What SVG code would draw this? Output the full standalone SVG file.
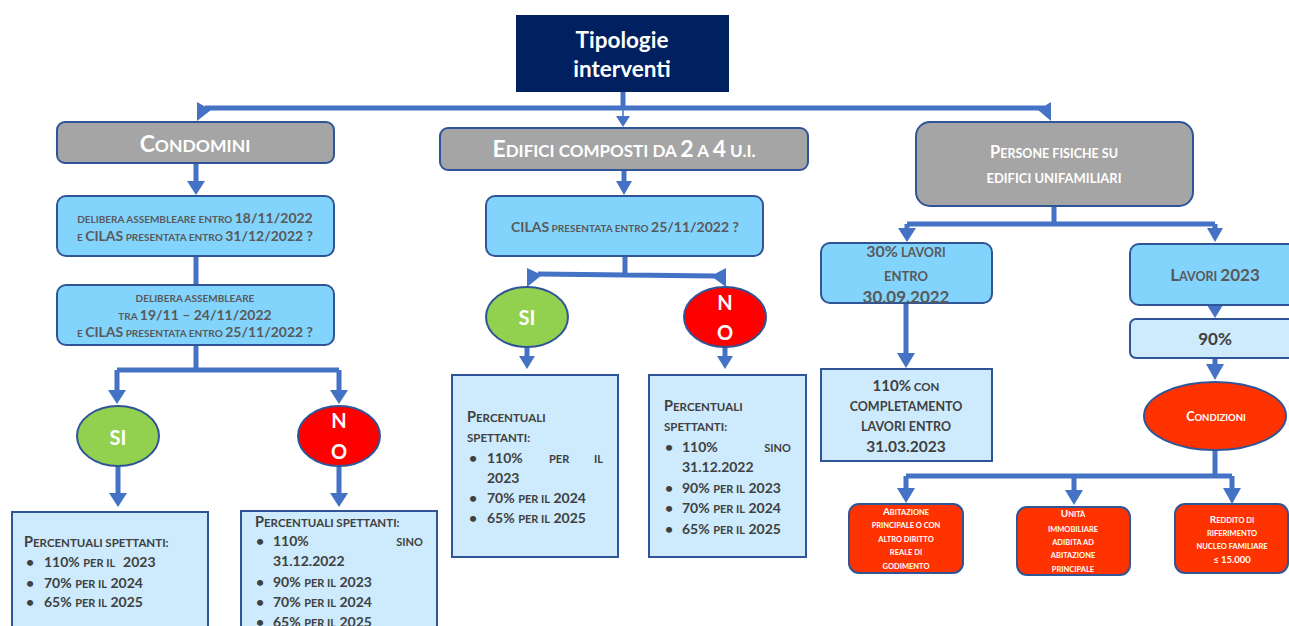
<svg xmlns="http://www.w3.org/2000/svg" width="1289" height="626" viewBox="0 0 1289 626">
<style>
text{font-family:Lato,"Open Sans","Liberation Sans",sans-serif;font-weight:bold}
.w{fill:#ffffff}
.g{fill:#595959}
.d{fill:#404040}
.gray{fill:#a5a5a5;stroke:#2f5597;stroke-width:2}
.q{fill:#83d4fd;stroke:#2f5597;stroke-width:2}
.p{fill:#cdebfd;stroke:#2f5597;stroke-width:2}
.r{fill:#ff3300;stroke:#2f5597;stroke-width:2}
.c{stroke:#4472c4;stroke-width:5;fill:none}
.h{fill:#4472c4}
</style>
<g id="connectors">
<path class="c" d="M623,92 V108"/>
<path class="c" d="M205,108 H1045" stroke-width="4"/>
<polygon class="h" points="197,102 211,110 197,121"/>
<polygon class="h" points="1051,102 1038,110 1051,121"/>
<path d="M623,110 V118" stroke="#4472c4" stroke-width="1.5"/>
<polygon class="h" points="616,116 630,116 623,127"/>
<path class="c" d="M196,163 V183"/>
<polygon class="h" points="187,181 205,181 196,195"/>
<path class="c" d="M196,256 V286"/>
<path class="c" d="M196,345 V370 M117,370 H339 M117,370 V392 M339,370 V392"/>
<polygon class="h" points="108,390 126,390 117,404"/>
<polygon class="h" points="330,390 348,390 339,404"/>
<path class="c" d="M118,466 V495 M339,466 V495"/>
<polygon class="h" points="109,493 127,493 118,507"/>
<polygon class="h" points="330,493 348,493 339,507"/>
<path class="c" d="M624,170 V183"/>
<polygon class="h" points="616,181 632,181 624,195"/>
<path class="c" d="M625,256 V274 M538,274 L715,276"/>
<polygon class="h" points="527,268 542,275 527,287"/>
<polygon class="h" points="726,268 711,276 726,287"/>
<path class="c" d="M527,346 V358 M725,346 V358"/>
<polygon class="h" points="519,356 535,356 527,369"/>
<polygon class="h" points="717,356 733,356 725,369"/>
<path class="c" d="M1054,206 V224 M907,224 H1215 M907,224 V230 M1215,224 V230"/>
<polygon class="h" points="898,228 916,228 907,242"/>
<polygon class="h" points="1207,228 1223,228 1215,242"/>
<path class="c" d="M906,303 V355"/>
<polygon class="h" points="897,353 915,353 906,368"/>
<polygon class="h" points="1207,305 1223,305 1215,318"/>
<path class="c" d="M1215,358 V366"/>
<polygon class="h" points="1206,364 1224,364 1215,380"/>
<path class="c" d="M1215,450 V477" stroke-width="6"/>
<path class="c" d="M906,476 H1232 M906,476 V490 M1074,476 V492 M1232,476 V490"/>
<polygon class="h" points="897,488 915,488 906,503"/>
<polygon class="h" points="1065,490 1083,490 1074,505"/>
<polygon class="h" points="1223,488 1241,488 1232,504"/>
</g>
<g id="n-title">
<rect x="516" y="15" width="213" height="77" fill="#002060"/>
<text class="w" x="622" y="48" font-size="22.5" text-anchor="middle">Tipologie</text>
<text class="w" x="622" y="77" font-size="22.5" text-anchor="middle">interventi</text>
</g>
<g id="n-condomini">
<rect class="gray" x="57" y="122" width="277" height="41" rx="8"/>
<text class="w" x="195" y="152" text-anchor="middle"><tspan font-size="23">C</tspan><tspan font-size="17.5">ONDOMINI</tspan></text>
</g>
<g id="n-cond-q1">
<rect class="q" x="57" y="196" width="277" height="60" rx="9"/>
<text class="g" x="195" y="223" text-anchor="middle" font-size="10">DELIBERA ASSEMBLEARE  ENTRO <tspan font-size="14">18/11/2022</tspan></text>
<text class="g" x="195" y="241" text-anchor="middle" font-size="10">E <tspan font-size="14">CILAS</tspan> PRESENTATA  ENTRO <tspan font-size="14">31/12/2022 ?</tspan></text>
</g>
<g id="n-cond-q2">
<rect class="q" x="57" y="285" width="277" height="60" rx="9"/>
<text class="g" x="195" y="302" text-anchor="middle" font-size="10">DELIBERA ASSEMBLEARE</text>
<text class="g" x="195" y="320" text-anchor="middle" font-size="10">TRA <tspan font-size="14">19/11 – 24/11/2022</tspan></text>
<text class="g" x="195" y="337" text-anchor="middle" font-size="10">E <tspan font-size="14">CILAS</tspan> PRESENTATA  ENTRO <tspan font-size="14">25/11/2022 ?</tspan></text>
</g>
<g id="n-cond-si">
<ellipse cx="118" cy="436" rx="41" ry="30" fill="#92d050" stroke="#2f5597" stroke-width="2"/>
<text class="w" x="118" y="445" font-size="20" text-anchor="middle">SI</text>
</g>
<g id="n-cond-no">
<ellipse cx="339" cy="436" rx="41" ry="30" fill="#ff0000" stroke="#2f5597" stroke-width="2"/>
<text class="w" x="339" y="428" font-size="20" text-anchor="middle">N</text>
<text class="w" x="339" y="459" font-size="20" text-anchor="middle">O</text>
</g>
<g id="n-cond-si-perc">
<rect class="p" x="12" y="512" width="196" height="130"/>
<text class="d" x="24" y="547" font-size="11.5"><tspan font-size="14.5">P</tspan>ERCENTUALI SPETTANTI:</text>
<text class="d" x="26" y="567" font-size="14">•</text>
<text class="d" x="44" y="567" font-size="14">110% <tspan font-size="11">PER IL</tspan><tspan dx="8">2023</tspan></text>
<text class="d" x="26" y="588" font-size="14">•</text>
<text class="d" x="44" y="588" font-size="14">70% <tspan font-size="11">PER IL</tspan> 2024</text>
<text class="d" x="26" y="607" font-size="14">•</text>
<text class="d" x="44" y="607" font-size="14">65% <tspan font-size="11">PER IL</tspan> 2025</text>
</g>
<g id="n-cond-no-perc">
<rect class="p" x="241" y="511" width="196" height="130"/>
<text class="d" x="255" y="527" font-size="11.5"><tspan font-size="14.5">P</tspan>ERCENTUALI SPETTANTI:</text>
<text class="d" x="256" y="546" font-size="14">•</text>
<text class="d" x="273" y="546" font-size="14">110%</text>
<text class="d" x="423" y="546" font-size="11" text-anchor="end">SINO</text>
<text class="d" x="273" y="566" font-size="14">31.12.2022</text>
<text class="d" x="256" y="587" font-size="14">•</text>
<text class="d" x="273" y="587" font-size="14">90% <tspan font-size="11">PER IL</tspan> 2023</text>
<text class="d" x="256" y="607" font-size="14">•</text>
<text class="d" x="273" y="607" font-size="14">70% <tspan font-size="11">PER IL</tspan> 2024</text>
<text class="d" x="256" y="627" font-size="14">•</text>
<text class="d" x="273" y="627" font-size="14">65% <tspan font-size="11">PER IL</tspan> 2025</text>
</g>
<g id="n-edifici">
<rect class="gray" x="440" y="128" width="368" height="42" rx="8"/>
<text class="w" x="624" y="157" text-anchor="middle" font-size="17"><tspan font-size="23">E</tspan>DIFICI COMPOSTI DA <tspan font-size="23">2</tspan> A <tspan font-size="23">4</tspan> U.I.</text>
</g>
<g id="n-ed-q">
<rect class="q" x="486" y="196" width="277" height="60" rx="9"/>
<text class="g" x="625" y="232" text-anchor="middle" font-size="10"><tspan font-size="14">CILAS</tspan> PRESENTATA  ENTRO <tspan font-size="14">25/11/2022 ?</tspan></text>
</g>
<g id="n-ed-si">
<ellipse cx="527" cy="317" rx="41" ry="30" fill="#92d050" stroke="#2f5597" stroke-width="2"/>
<text class="w" x="527" y="325" font-size="20" text-anchor="middle">SI</text>
</g>
<g id="n-ed-no">
<ellipse cx="725" cy="317" rx="41" ry="30" fill="#ff0000" stroke="#2f5597" stroke-width="2"/>
<text class="w" x="725" y="310" font-size="20" text-anchor="middle">N</text>
<text class="w" x="725" y="340" font-size="20" text-anchor="middle">O</text>
</g>
<g id="n-ed-si-perc">
<rect class="p" x="452" y="375" width="166" height="182"/>
<text class="d" x="467" y="422" font-size="11.5"><tspan font-size="14.5">P</tspan>ERCENTUALI</text>
<text class="d" x="467" y="442" font-size="11.5">SPETTANTI:</text>
<text class="d" x="469" y="463" font-size="14">•</text>
<text class="d" x="487" y="463" font-size="14">110%</text>
<text class="d" x="549" y="463" font-size="11">PER</text>
<text class="d" x="603" y="463" font-size="11" text-anchor="end">IL</text>
<text class="d" x="487" y="483" font-size="14">2023</text>
<text class="d" x="469" y="503" font-size="14">•</text>
<text class="d" x="487" y="503" font-size="14">70% <tspan font-size="11">PER IL</tspan> 2024</text>
<text class="d" x="469" y="523" font-size="14">•</text>
<text class="d" x="487" y="523" font-size="14">65% <tspan font-size="11">PER IL</tspan> 2025</text>
</g>
<g id="n-ed-no-perc">
<rect class="p" x="649" y="375" width="157" height="182"/>
<text class="d" x="664" y="411" font-size="11.5"><tspan font-size="14.5">P</tspan>ERCENTUALI</text>
<text class="d" x="664" y="431" font-size="11.5">SPETTANTI:</text>
<text class="d" x="665" y="452" font-size="14">•</text>
<text class="d" x="682" y="452" font-size="14">110%</text>
<text class="d" x="791" y="452" font-size="11" text-anchor="end">SINO</text>
<text class="d" x="682" y="472" font-size="14">31.12.2022</text>
<text class="d" x="665" y="493" font-size="14">•</text>
<text class="d" x="682" y="493" font-size="14">90% <tspan font-size="11">PER IL</tspan> 2023</text>
<text class="d" x="665" y="513" font-size="14">•</text>
<text class="d" x="682" y="513" font-size="14">70% <tspan font-size="11">PER IL</tspan> 2024</text>
<text class="d" x="665" y="534" font-size="14">•</text>
<text class="d" x="682" y="534" font-size="14">65% <tspan font-size="11">PER IL</tspan> 2025</text>
</g>
<g id="n-persone">
<rect class="gray" x="916" y="122" width="277" height="84" rx="14"/>
<text class="w" x="1054" y="158" text-anchor="middle" font-size="12.5"><tspan font-size="16.5">P</tspan>ERSONE FISICHE SU</text>
<text class="w" x="1054" y="183" text-anchor="middle" font-size="13">EDIFICI UNIFAMILIARI</text>
</g>
<g id="n-30">
<rect class="q" x="821" y="243" width="171" height="60" rx="9"/>
<text class="g" x="906" y="257" text-anchor="middle" font-size="12.5"><tspan font-size="16">30%</tspan> LAVORI</text>
<text class="g" x="906" y="281" text-anchor="middle" font-size="13">ENTRO</text>
<text class="g" x="906" y="303" text-anchor="middle" font-size="17">30.09.2022</text>
</g>
<g id="n-110">
<rect class="p" x="821" y="369" width="171" height="92"/>
<text class="d" x="906" y="391" text-anchor="middle" font-size="11.5"><tspan font-size="15">110%</tspan> CON</text>
<text class="d" x="906" y="411" text-anchor="middle" font-size="12.5">COMPLETAMENTO</text>
<text class="d" x="906" y="431" text-anchor="middle" font-size="12.5">LAVORI ENTRO</text>
<text class="d" x="906" y="452" text-anchor="middle" font-size="15.5">31.03.2023</text>
</g>
<g id="n-lavori2023">
<rect class="q" x="1130" y="244" width="180" height="61" rx="9"/>
<text class="g" x="1215" y="281" text-anchor="middle" font-size="12.5"><tspan font-size="17">L</tspan>AVORI <tspan font-size="17">2023</tspan></text>
</g>
<g id="n-90">
<rect class="p" x="1130" y="319" width="180" height="39" rx="6"/>
<text class="d" x="1215" y="345" text-anchor="middle" font-size="17">90%</text>
</g>
<g id="n-condizioni">
<ellipse class="r" cx="1215" cy="416" rx="71" ry="34"/>
<text class="w" x="1216" y="421" text-anchor="middle" font-size="9.5"><tspan font-size="12.5">C</tspan>ONDIZIONI</text>
</g>
<g id="n-abitazione">
<rect class="r" x="849" y="504" width="114" height="69" rx="10"/>
<text class="w" x="906" y="515" text-anchor="middle" font-size="7.5"><tspan font-size="10">A</tspan>BITAZIONE</text>
<text class="w" x="906" y="528" text-anchor="middle" font-size="7.5">PRINCIPALE O CON</text>
<text class="w" x="906" y="542" text-anchor="middle" font-size="7.5">ALTRO DIRITTO</text>
<text class="w" x="906" y="555" text-anchor="middle" font-size="7.5">REALE DI</text>
<text class="w" x="906" y="569" text-anchor="middle" font-size="7.5">GODIMENTO</text>
</g>
<g id="n-unita">
<rect class="r" x="1017" y="507" width="113" height="68" rx="10"/>
<text class="w" x="1073" y="517" text-anchor="middle" font-size="7.5"><tspan font-size="10">U</tspan>NITÀ</text>
<text class="w" x="1073" y="532" text-anchor="middle" font-size="7.5">IMMOBILIARE</text>
<text class="w" x="1073" y="545" text-anchor="middle" font-size="7.5">ADIBITA AD</text>
<text class="w" x="1073" y="558" text-anchor="middle" font-size="7.5">ABITAZIONE</text>
<text class="w" x="1073" y="572" text-anchor="middle" font-size="7.5">PRINCIPALE</text>
</g>
<g id="n-reddito">
<rect class="r" x="1175" y="504" width="113" height="69" rx="10"/>
<text class="w" x="1232" y="523" text-anchor="middle" font-size="7.5"><tspan font-size="10">R</tspan>EDDITO DI</text>
<text class="w" x="1232" y="536" text-anchor="middle" font-size="7.5">RIFERIMENTO</text>
<text class="w" x="1232" y="549" text-anchor="middle" font-size="7.5">NUCLEO FAMILIARE</text>
<text class="w" x="1232" y="563" text-anchor="middle" font-size="9.5">≤ 15.000</text>
</g>
</svg>
